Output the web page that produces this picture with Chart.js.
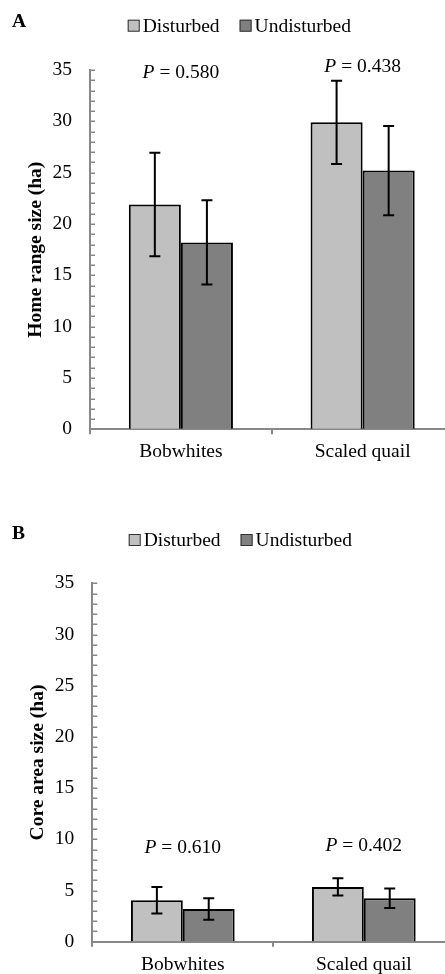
<!DOCTYPE html>
<html lang="en">
<head>
<meta charset="UTF-8">
<title>Home range and core area size</title>
<script src="https://cdn.jsdelivr.net/npm/chart.js"></script>
<style>
  html, body { margin: 0; padding: 0; background: #fff; overflow: hidden; }
  body { width: 445px; height: 974px; position: relative; }
  canvas { position: absolute; left: 0; }
</style>
</head>
<body>
<canvas id="chartA" width="456" height="480" style="top:0px"></canvas>
<canvas id="chartB" width="456" height="461" style="top:513px"></canvas>
<script>
// data
const categories = ['Bobwhites', 'Scaled quail'];
const seriesNames = ['Disturbed', 'Undisturbed'];
const seriesColors = ['#c0c0c0', '#808080'];

// panel A: home range size (ha)
const homeDisturbed = [21.9, 29.9];
const homeDisturbedErr = [5.05, 4.05];
const homeUndisturbed = [18.2, 25.2];
const homeUndisturbedErr = [4.1, 4.35];
const homePValues = ['0.580', '0.438'];
const homePLevel = [34.7, 35.3];

// panel B: core area size (ha)
const coreDisturbed = [4.05, 5.35];
const coreDisturbedErr = [1.3, 0.85];
const coreUndisturbed = [3.2, 4.25];
const coreUndisturbedErr = [1.05, 0.95];
const corePValues = ['0.610', '0.402'];
const corePLevel = [9.2, 9.35];

const yMin = 0, yMax = 35, yMajor = 5, yMinor = 1;

const serif = "'Liberation Serif', 'Times New Roman', serif";
const fs = 19.5;
const axisGray = '#888888';

const extras = {
  id: 'extras',
  afterDatasetsDraw(chart) {
    const ctx = chart.ctx, y = chart.scales.y;
    ctx.save();
    ctx.strokeStyle = '#000';
    ctx.lineWidth = 2;
    chart.data.datasets.forEach((ds, di) => {
      chart.getDatasetMeta(di).data.forEach((bar, i) => {
        const v = ds.data[i], e = ds.errors[i];
        const t = y.getPixelForValue(v + e), b = y.getPixelForValue(v - e);
        ctx.beginPath();
        ctx.moveTo(bar.x, t); ctx.lineTo(bar.x, b);
        ctx.moveTo(bar.x - 5.5, t); ctx.lineTo(bar.x + 5.5, t);
        ctx.moveTo(bar.x - 5.5, b); ctx.lineTo(bar.x + 5.5, b);
        ctx.stroke();
      });
    });
    ctx.restore();
  },
  afterDraw(chart, args, opts) {
    const ctx = chart.ctx, x = chart.scales.x, y = chart.scales.y;
    const left = chart.chartArea.left;
    ctx.save();
    // inward tick marks on the y axis
    ctx.strokeStyle = axisGray;
    ctx.lineWidth = 1.5;
    y.ticks.forEach(t => {
      const py = Math.round(y.getPixelForValue(t.value)) + 0.25;
      ctx.beginPath();
      ctx.moveTo(left, py); ctx.lineTo(left + 5, py);
      ctx.stroke();
    });

    // panel letter
    ctx.fillStyle = '#000';
    ctx.textBaseline = 'middle';
    ctx.textAlign = 'left';
    ctx.font = 'bold ' + fs + 'px ' + serif;
    ctx.fillText(opts.letter, opts.letterX, opts.letterY);

    // legend
    let lx = opts.legendX;
    ctx.font = fs + 'px ' + serif;
    chart.data.datasets.forEach(ds => {
      ctx.fillStyle = ds.backgroundColor;
      ctx.fillRect(lx, opts.legendY - 6, 12, 12);
      ctx.strokeStyle = '#333';
      ctx.lineWidth = 1;
      ctx.strokeRect(lx + 0.5, opts.legendY - 5.5, 11, 11);
      ctx.fillStyle = '#000';
      ctx.fillText(ds.label, lx + 15, opts.legendY + 1);
      lx += 15 + ctx.measureText(ds.label).width + 20;
    });

    // P values above each group
    opts.pValues.forEach((pv, i) => {
      const cx = x.getPixelForValue(i), cy = y.getPixelForValue(opts.pLevel[i]);
      ctx.font = 'italic ' + fs + 'px ' + serif;
      const w1 = ctx.measureText('P').width;
      ctx.font = fs + 'px ' + serif;
      const rest = ' = ' + pv;
      const w2 = ctx.measureText(rest).width;
      const sx = cx - (w1 + w2) / 2;
      ctx.font = 'italic ' + fs + 'px ' + serif;
      ctx.fillText('P', sx, cy);
      ctx.font = fs + 'px ' + serif;
      ctx.fillText(rest, sx + w1, cy);
    });
    ctx.restore();
  }
};

function makeChart(id, p) {
  const canvas = document.getElementById(id);
  return new Chart(canvas, {
    type: 'bar',
    data: {
      labels: categories,
      datasets: [
        { label: seriesNames[0], data: p.dist, errors: p.distErr, backgroundColor: seriesColors[0],
          borderColor: '#000', borderWidth: 2 },
        { label: seriesNames[1], data: p.undist, errors: p.undistErr, backgroundColor: seriesColors[1],
          borderColor: '#000', borderWidth: 2 }
      ]
    },
    options: {
      responsive: false,
      animation: false,
      layout: { padding: { top: p.areaTop, right: canvas.width - p.areaRight, left: 0, bottom: 0 } },
      datasets: { bar: { categoryPercentage: 0.573, barPercentage: 1.0 } },
      plugins: {
        legend: { display: false },
        tooltip: { enabled: false },
        extras: {
          letter: p.letter, letterX: 12, letterY: p.letterY,
          legendX: p.legendX, legendY: p.legendY,
          pValues: p.pValues, pLevel: p.pLevel
        }
      },
      scales: {
        x: {
          ticks: { color: '#000', font: { family: serif, size: fs }, padding: 6 },
          grid: { drawOnChartArea: false, tickLength: 5, color: axisGray, lineWidth: 2, offset: true },
          border: { color: axisGray, width: 2 },
          afterFit: s => { s.height = canvas.height - p.areaBottom; }
        },
        y: {
          min: yMin, max: yMax,
          ticks: {
            stepSize: yMinor, autoSkip: false, padding: 18, color: '#000',
            font: { family: serif, size: fs },
            callback: v => (v % yMajor === 0 ? v : '')
          },
          grid: { drawOnChartArea: false, drawTicks: false },
          border: { color: axisGray, width: 2 },
          title: {
            display: true, text: p.yTitle, color: '#000',
            font: { family: serif, size: fs, weight: 'bold' },
            padding: { top: p.titlePad, bottom: 0 }
          },
          afterFit: s => { s.width = p.areaLeft; }
        }
      }
    },
    plugins: [extras]
  });
}

makeChart('chartA', {
  dist: homeDisturbed, distErr: homeDisturbedErr,
  undist: homeUndisturbed, undistErr: homeUndisturbedErr,
  pValues: homePValues, pLevel: homePLevel,
  yTitle: 'Home range size (ha)', letter: 'A', letterY: 22,
  legendX: 127.7, legendY: 25.7,
  areaLeft: 90, areaTop: 70, areaBottom: 429.3, areaRight: 453.5, titlePad: 24
});

makeChart('chartB', {
  dist: coreDisturbed, distErr: coreDisturbedErr,
  undist: coreUndisturbed, undistErr: coreUndisturbedErr,
  pValues: corePValues, pLevel: corePLevel,
  yTitle: 'Core area size (ha)', letter: 'B', letterY: 21,
  legendX: 128.7, legendY: 27,
  areaLeft: 92.3, areaTop: 70.3, areaBottom: 428.7, areaRight: 454.3, titlePad: 26
});
</script>
</body>
</html>
